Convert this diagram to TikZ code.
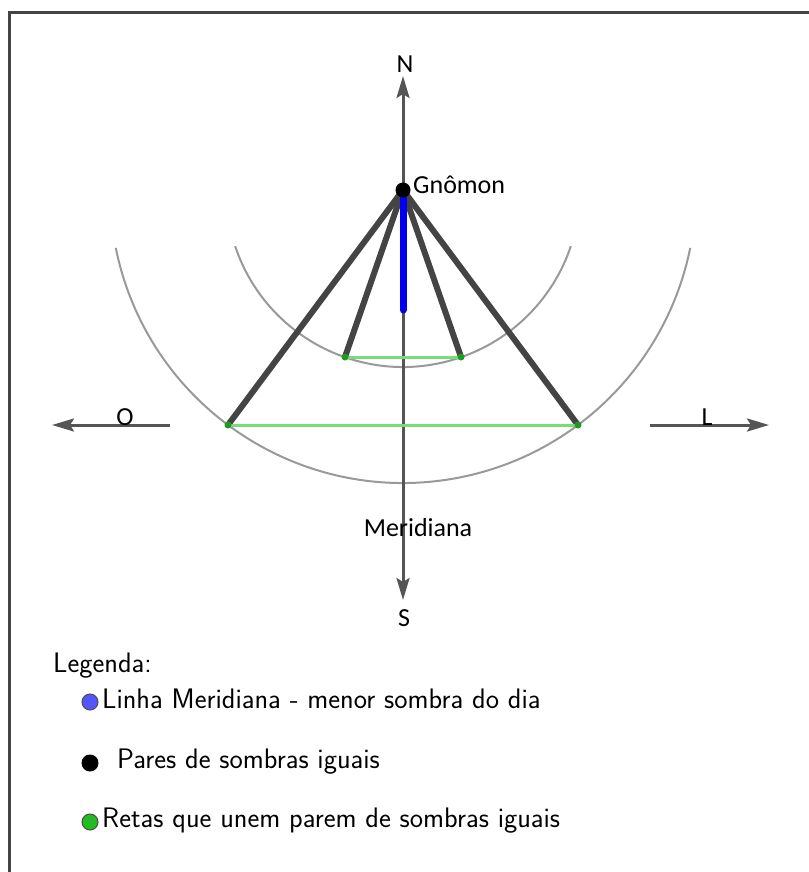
\documentclass[tikz,border=0pt]{standalone}
\usepackage{fontspec}
\newfontfamily\carl{Carlito}
\usetikzlibrary{arrows.meta}
\definecolor{axisgray}{HTML}{555555}
\definecolor{shadowgray}{HTML}{444444}
\definecolor{arcgray}{HTML}{999999}
\definecolor{pairgreen}{HTML}{77DD77}
\definecolor{dotgreen}{HTML}{229922}
\definecolor{meridblue}{HTML}{0000EE}
\definecolor{legblue}{HTML}{5555FF}
\definecolor{leggreen}{HTML}{22BB22}
\tikzset{
  axisline/.style={draw=axisgray, line width=3pt, -{Stealth[length=22pt,width=13pt,inset=4pt]}},
  shadowline/.style={draw=shadowgray, line width=6pt},
  pairline/.style={draw=pairgreen, line width=3pt},
  arcline/.style={draw=arcgray, line width=2pt},
  lbl/.style={font=\carl\fontsize{26}{30}\selectfont, inner sep=0pt},
  legtext/.style={font=\sffamily\fontsize{28.2}{32}\selectfont, inner sep=0pt, anchor=base west},
  gdot/.style={circle, fill=dotgreen, inner sep=0pt, minimum size=7pt},
}
\begin{document}
\begin{tikzpicture}[x=1pt, y=-1pt]
\useasboundingbox (0,0) rectangle (808,872);
% frame
\draw[draw=shadowgray, line width=2.5pt] (9.5,880) -- (9.5,12.5) -- (820,12.5);
% coordinates
\coordinate (G) at (403,190);
\coordinate (Ntip) at (403,76);
\coordinate (Stip) at (403,600);
\coordinate (Oend) at (170,425);
\coordinate (Otip) at (52,425);
\coordinate (Lend) at (650,425);
\coordinate (Ltip) at (769,425);
\coordinate (Bend) at (403,310);
% arcs centred on gnomon (y axis points down the page)
\path (G) ++(161.5:177) coordinate (ia1);
\draw[arcline] (ia1) arc[start angle=161.5, end angle=18.5, radius=177];
\path (G) ++(168.6:293) coordinate (oa1);
\draw[arcline] (oa1) arc[start angle=168.6, end angle=11.4, radius=293];
% axes
\draw[axisline] (G) -- (Ntip);
\draw[axisline] (G) -- (Stip);
\draw[axisline] (Oend) -- (Otip);
\draw[axisline] (Lend) -- (Ltip);
% shadow points
\coordinate (p1) at (345,357);
\coordinate (p2) at (461,357);
\coordinate (q1) at (228,425);
\coordinate (q2) at (578,425);
\draw[shadowline] (G) -- (p1);
\draw[shadowline] (G) -- (p2);
\draw[shadowline] (G) -- (q1);
\draw[shadowline] (G) -- (q2);
\draw[pairline] (p1) -- (p2);
\draw[pairline] (q1) -- (q2);
\foreach \p in {p1,p2,q1,q2} \node[gdot] at (\p) {};
% meridian line
\draw[draw=meridblue, line width=7pt, line cap=round] (403,198) -- (Bend);
\node[circle, fill=black, inner sep=0pt, minimum size=15pt] (gn) at (G) {};
% labels
\node[lbl] (N) at (405,64) {N};
\node[lbl] (S) at (404,618) {S};
\node[lbl, anchor=base] (O) at (125,425) {O};
\node[lbl, anchor=base] (L) at (707,425) {L};
\node[lbl, anchor=base west] (gl) at (413,193) {Gnômon};
\node[lbl, anchor=base] (mer) at (418,536) {Meridiana};
% legend
\node[legtext] (leg) at (53,672) {Legenda:};
\node[circle, draw=black!70, line width=1pt, fill=legblue, minimum size=16pt, inner sep=0pt] (c1) at (90,702) {};
\node[legtext] (t1) at (102,708) {Linha Meridiana - menor sombra do dia};
\node[circle, fill=black, minimum size=17pt, inner sep=0pt] (c2) at (90,763) {};
\node[legtext] (t2) at (117,768) {Pares de sombras iguais};
\node[circle, draw=black!70, line width=1pt, fill=leggreen, minimum size=16pt, inner sep=0pt] (c3) at (90,822) {};
\node[legtext] (t3) at (102,827) {Retas que unem parem de sombras iguais};
\end{tikzpicture}
\end{document}
